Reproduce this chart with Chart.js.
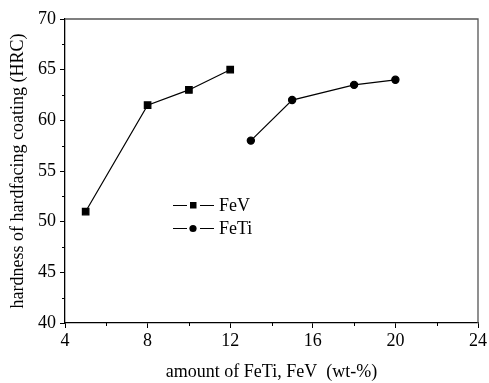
<!DOCTYPE html>
<html>
<head>
<meta charset="utf-8">
<script src="https://cdn.jsdelivr.net/npm/chart.js@4.4.1/dist/chart.umd.min.js"></script>
<style>
  html, body { margin:0; padding:0; background:#fff; }
  #wrap { width:489px; height:383px; }
</style>
</head>
<body>
<div id="wrap"><canvas id="chart" width="489" height="383"></canvas></div>
<script>
const fevX = [5, 8, 10, 12];
const fevY = [51, 61.5, 63, 65];
const fetiX = [13, 15, 18, 20];
const fetiY = [58, 62, 63.5, 64];
const xTitle = 'amount of FeTi, FeV  (wt-%)';
const yTitle = 'hardness of hardfacing coating (HRC)';
const seriesNames = ['FeV', 'FeTi'];

const serif = "'Liberation Serif', 'DejaVu Serif', serif";

// minor ticks halfway between major ones, axis frame on top/right, legend inside
const frame = {
  id: 'frame',
  afterDraw(chart){
    const ctx = chart.ctx, a = chart.chartArea;
    const xs = chart.scales.x, ys = chart.scales.y;
    ctx.save();
    ctx.strokeStyle = '#555';
    ctx.lineWidth = 1.3;
    ctx.beginPath();
    ctx.moveTo(a.left, a.top); ctx.lineTo(a.right, a.top); ctx.lineTo(a.right, a.bottom);
    ctx.stroke();
    ctx.strokeStyle = '#000';
    ctx.lineWidth = 1;
    ctx.beginPath();
    for(let v=6; v<24; v+=4){
      const px = Math.round(xs.getPixelForValue(v)) + 0.5;
      ctx.moveTo(px, a.bottom); ctx.lineTo(px, a.bottom + 3);
    }
    for(let v=42.5; v<70; v+=5){
      const py = Math.round(ys.getPixelForValue(v)) + 0.5;
      ctx.moveTo(a.left, py); ctx.lineTo(a.left - 3, py);
    }
    ctx.stroke();

    const rows = [[205, 'rect', seriesNames[0]], [228, 'circle', seriesNames[1]]];
    ctx.font = '18px ' + serif;
    ctx.textBaseline = 'middle';
    ctx.fillStyle = '#000';
    rows.forEach(([y, shape, label])=>{
      ctx.beginPath();
      ctx.moveTo(173, y + 0.5); ctx.lineTo(187, y + 0.5);
      ctx.moveTo(200, y + 0.5); ctx.lineTo(214, y + 0.5);
      ctx.lineWidth = 1.2;
      ctx.stroke();
      ctx.beginPath();
      if(shape === 'rect') ctx.rect(190, y - 3, 6.5, 6.5);
      else ctx.arc(193, y + 0.5, 3.6, 0, Math.PI * 2);
      ctx.fill();
      ctx.fillText(label, 219, y + 1);
    });
    ctx.restore();
  }
};

new Chart(document.getElementById('chart'), {
  type: 'line',
  data: {
    datasets: [
      { label: seriesNames[0], data: fevX.map((x,i)=>({x, y: fevY[i]})),
        borderColor:'#000', backgroundColor:'#000', borderWidth:1.2,
        pointStyle:'rect', pointRadius:4.6, tension:0 },
      { label: seriesNames[1], data: fetiX.map((x,i)=>({x, y: fetiY[i]})),
        borderColor:'#000', backgroundColor:'#000', borderWidth:1.2,
        pointStyle:'circle', pointRadius:3.6, tension:0 }
    ]
  },
  options: {
    responsive: false,
    animation: false,
    layout: { padding: { top: 19, right: 11, left: 0, bottom: 0 } },
    plugins: { legend: { display:false }, tooltip: { enabled:false } },
    scales: {
      x: {
        type: 'linear', min: 4, max: 24,
        afterFit(s){ s.height = 60; },
        ticks: { stepSize: 4, color:'#000', padding: 2, font: { family: serif, size: 18 } },
        grid: { drawOnChartArea:false, tickLength:5, color:'#000' },
        border: { color:'#000', width:1.3 },
        title: { display:true, text: xTitle, color:'#000', padding: { top: 1, bottom: 0 }, font: { family: serif, size: 18 } }
      },
      y: {
        type: 'linear', min: 40, max: 70,
        afterFit(s){ s.width = 65; },
        ticks: { stepSize: 5, color:'#000', padding: 4, font: { family: serif, size: 18 } },
        grid: { drawOnChartArea:false, tickLength:5, color:'#000' },
        border: { color:'#000', width:1.3 },
        title: { display:true, text: yTitle, color:'#000', padding: { top: 7, bottom: 0 }, font: { family: serif, size: 18 } }
      }
    }
  },
  plugins: [frame]
});
</script>
</body>
</html>
